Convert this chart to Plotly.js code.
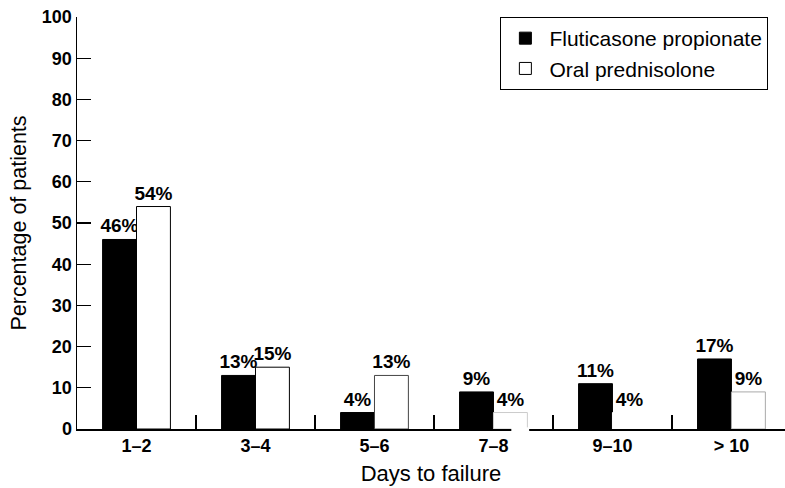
<!DOCTYPE html>
<html>
<head>
<meta charset="utf-8">
<script src="https://cdn.plot.ly/plotly-3.0.1.min.js"></script>
<style>html,body{margin:0;padding:0;background:#fff;}#chart{width:785px;height:488px;}</style>
</head>
<body>
<div id="chart"></div>
<script>
const categories = ['1\u20132', '3\u20134', '5\u20136', '7\u20138', '9\u201310', '> 10'];
const fluticasone = [46, 13, 4, 9, 11, 17];
const prednisolone = [54, 15, 13, 4, 4, 9];
const seriesNames = ['Fluticasone propionate', 'Oral prednisolone'];
const yTicks = [0, 10, 20, 30, 40, 50, 60, 70, 80, 90, 100];

const FONT = 'Liberation Sans, Arial, Helvetica, sans-serif';
const pct = v => v + '%';
const whiteOutline = ['#000', '#000', '#444', '#ccc', '#fff', '#aaa'];

const traces = [
  {
    type: 'bar', name: seriesNames[0], x: categories, y: fluticasone,
    text: fluticasone.map(pct), textposition: 'outside', cliponaxis: false,
    constraintext: 'none', textangle: 0,
    outsidetextfont: {family: FONT, size: 19, color: '#000', weight: 'bold'},
    marker: {color: '#000', line: {color: '#000', width: 1}},
    hoverinfo: 'none'
  },
  {
    type: 'bar', name: seriesNames[1], x: categories, y: prednisolone,
    text: prednisolone.map(pct), textposition: 'outside', cliponaxis: false,
    constraintext: 'none', textangle: 0,
    outsidetextfont: {family: FONT, size: 19, color: '#000', weight: 'bold'},
    marker: {color: '#fff', line: {color: whiteOutline, width: 1}},
    hoverinfo: 'none'
  }
];

const layout = {
  width: 785, height: 488,
  margin: {l: 77, r: 0, t: 17, b: 59},
  paper_bgcolor: '#fff', plot_bgcolor: '#fff',
  font: {family: FONT, color: '#000'},
  barmode: 'group', bargap: 0.43, bargroupgap: 0,
  uniformtext: {mode: false},
  showlegend: true,
  legend: {
    x: 0.598, y: 1, xanchor: 'left', yanchor: 'top',
    bordercolor: '#000', borderwidth: 1, bgcolor: '#fff',
    font: {family: FONT, size: 21, color: '#000'},
    itemwidth: 38,
    tracegroupgap: 0
  },
  xaxis: {
    type: 'category', range: [-0.5, 5.45],
    showline: true, linecolor: '#000', linewidth: 1.5,
    ticks: 'inside', tickson: 'boundaries', ticklen: 14, tickcolor: '#000', tickwidth: 1.2,
    showgrid: false, zeroline: false, fixedrange: true,
    tickfont: {family: FONT, size: 18, color: '#000', weight: 'bold'},
    title: {text: 'Days to failure', font: {family: FONT, size: 22, color: '#000'}, standoff: 10}
  },
  yaxis: {
    range: [0, 100], tickvals: yTicks, ticktext: yTicks.map(String),
    showline: true, linecolor: '#000', linewidth: 1.5,
    ticks: 'inside', ticklen: 14, tickcolor: '#000', tickwidth: 1.2,
    showgrid: false, zeroline: false, fixedrange: true,
    tickfont: {family: FONT, size: 18, color: '#000', weight: 'bold'},
    title: {text: 'Percentage of patients', font: {family: FONT, size: 21.5, color: '#000'}, standoff: 9}
  },
  shapes: [
    {type: 'rect', xref: 'x', yref: 'paper', x0: 3.15, x1: 3.3, y0: -0.012, y1: 0.004,
     fillcolor: '#fff', line: {width: 0}, layer: 'above'}
  ]
};

Plotly.newPlot('chart', traces, layout, {staticPlot: true, displayModeBar: false});
</script>
</body>
</html>
